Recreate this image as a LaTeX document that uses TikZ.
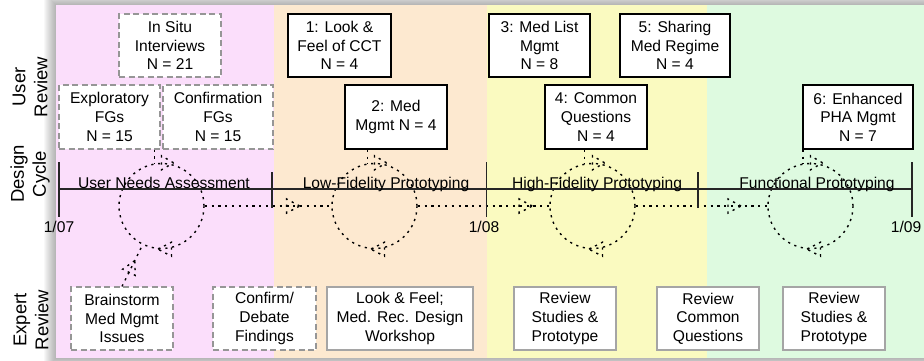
\documentclass[tikz,border=0pt]{standalone}
\usepackage{fontspec}
\setmainfont{Liberation Sans}
\usetikzlibrary{decorations.markings}
\definecolor{bpink}{RGB}{251,222,251}
\definecolor{bpeach}{RGB}{253,233,208}
\definecolor{byellow}{RGB}{250,250,192}
\definecolor{bgreen}{RGB}{222,250,224}
\definecolor{dgray}{RGB}{150,150,150}
\definecolor{lgray}{RGB}{165,165,165}
\newcommand\boxfont{\fontsize{15.6}{18.6}\selectfont}
\newcommand\sidefont{\fontsize{18.5}{22}\selectfont}
\begin{document}
\begin{tikzpicture}[x=1pt,y=-1pt,
  every node/.style={font=\boxfont},
  basebox/.style={fill=white, inner sep=0pt, align=center, minimum height=63pt},
  dbox/.style={basebox, draw=dgray, line width=1.2pt, dash pattern=on 6pt off 3.5pt},
  nbox/.style={basebox, draw=black, line width=1.4pt},
  gbox/.style={basebox, draw=lgray, line width=1.3pt},
  dotline/.style={draw=black, line width=1.4pt, dash pattern=on 2.2pt off 4.6pt},
  cyc/.style={circle, dotline, minimum size=85pt, inner sep=0pt},
  tl/.style={draw=black!85, line width=1.5pt},
  side/.style={rotate=90, align=center, font=\sidefont},
  triat/.style={postaction={decorate, decoration={markings,
     mark=at position #1 with {\draw[dotline] (0pt,0pt) -- (-13pt,7pt) -- (-13pt,-7pt) -- cycle;}}}}
]
\useasboundingbox (0,0) rectangle (924,360);
% shadow
\foreach \i in {1,...,12}
  \fill[black, opacity=0.028] (56-\i,5-\i) rectangle (924+\i,358+\i);
% bands
\fill[bpink] (56,5) rectangle (274,358);
\fill[bpeach] (274,5) rectangle (487,358);
\fill[byellow] (487,5) rectangle (707,358);
\fill[bgreen] (707,5) rectangle (924,358);

% side labels
\node[side] (lu) at (30,87) {User\\Review};
\node[side] (ld) at (30,174) {Design\\Cycle};
\node[side] (le) at (31,320) {Expert\\Review};

% user review boxes
\node[dbox, minimum width=102pt] (insitu) at (170,45.5) {In Situ\\Interviews\\N = 21};
\node[dbox, minimum width=101pt, minimum height=64pt] (expl) at (109.5,117) {Exploratory\\FGs\\N = 15};
\node[dbox, minimum width=110pt, minimum height=64pt] (conf) at (218,117) {Confirmation\\FGs\\N = 15};
\node[nbox, minimum width=103pt] (u1) at (339.5,45.5) {1: Look \&\\Feel of CCT\\N = 4};
\node[nbox, minimum width=102pt, minimum height=64pt] (u2) at (396,117) {2: Med\\Mgmt N = 4};
\node[nbox, minimum width=101pt] (u3) at (539.5,45.5) {3: Med List\\Mgmt\\N = 8};
\node[nbox, minimum width=110pt] (u5) at (675,45.5) {5: Sharing\\Med Regime\\N = 4};
\node[nbox, minimum width=102pt, minimum height=64pt] (u4) at (596,117) {4: Common\\Questions\\N = 4};
\node[nbox, minimum width=110pt, minimum height=64pt] (u6) at (858,117) {6: Enhanced\\PHA Mgmt\\N = 7};

% expert review boxes
\node[dbox, minimum width=102pt] (e1) at (122,318.5) {Brainstorm\\Med Mgmt\\Issues};
\node[dbox, minimum width=103pt] (e2) at (264.5,318.5) {Confirm/\\Debate\\Findings};
\node[gbox, minimum width=146pt] (e3) at (400,318.5) {Look \& Feel;\\Med. Rec. Design\\Workshop};
\node[gbox, minimum width=102pt] (e4) at (565,318.5) {Review\\Studies \&\\Prototype};
\node[gbox, minimum width=102pt] (e5) at (708,318.5) {Review\\Common\\Questions};
\node[gbox, minimum width=102pt] (e6) at (834,318.5) {Review\\Studies \&\\Prototype};

% design cycles
\node[cyc] (c1) at (161.5,206) {};
\node[cyc] (c2) at (374.5,206) {};
\node[cyc] (c3) at (592.5,206) {};
\node[cyc] (c4) at (810.5,206) {};
\foreach \c in {c1,c2,c3,c4}{
  \draw[dotline] ([xshift=12pt]\c.north) -- ([yshift=7pt]\c.north) -- ([yshift=-7pt]\c.north) -- cycle;
  \draw[dotline] ([xshift=-3.5pt]\c.south) -- ([xshift=10pt,yshift=7pt]\c.south) -- ([xshift=10pt,yshift=-7pt]\c.south) -- cycle;
}
% links from user review boxes
\draw[dotline] (c1.99.5 |- expl.south) -- (c1.99.5);
\draw[dotline] (c2.99.5 |- u2.south) -- (c2.99.5);
\draw[dotline] (c3.101 |- u4.south) -- (c3.101);
\draw[dotline] (c4.100 |- u6.south) -- (c4.100);
% link from expert review
\draw[dotline, triat=0.62] (e1.north) -- (c1.244);
% cycle to cycle
\draw[dotline, triat=0.75] (c1.east) -- (c2.west);
\draw[dotline, triat=0.87] (c2.east) -- (c3.west);
\draw[dotline, triat=0.80] (c3.east) -- (c4.west);

% timeline
\coordinate (t07) at (59,189);
\coordinate (t08) at (486.7,189);
\coordinate (t09) at (912,189);
\coordinate (m1) at (272,189);
\coordinate (m2) at (698,189);
\draw[tl] (t07) -- (t09);
\foreach \t in {t07,t08,t09}
  \draw[tl] ([yshift=27pt]\t) -- ([yshift=-28pt]\t);
\foreach \t in {m1,m2}
  \draw[tl] ([yshift=17pt]\t) -- ([yshift=-19pt]\t);
\node[anchor=base] (p1) at (164,188) {User Needs Assessment};
\node[anchor=base] (p2) at (386,188) {Low-Fidelity Prototyping};
\node[anchor=base] (p3) at (597,188) {High-Fidelity Prototyping};
\node[anchor=base] (p4) at (817,188) {Functional Prototyping};
\node[anchor=base] (d1) at (59,232) {1/07};
\node[anchor=base] (d2) at (484,232) {1/08};
\node[anchor=base] (d3) at (906,232) {1/09};
\end{tikzpicture}
\end{document}
